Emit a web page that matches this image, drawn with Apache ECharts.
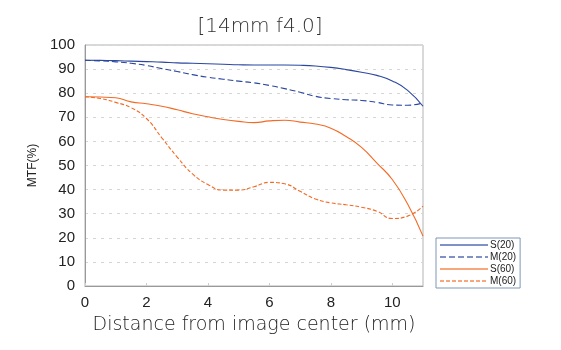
<!DOCTYPE html>
<html><head><meta charset="utf-8">
<script src="https://cdn.jsdelivr.net/npm/echarts@6/dist/echarts.min.js"></script>
<style>html,body{margin:0;padding:0;background:#fff}#c{width:561px;height:350px}</style>
</head><body><div id="c"></div>
<script>
const titleText = '[14mm f4.0]';
const xName = 'Distance from image center (mm)';
const yName = 'MTF(%)';
const seriesNames = ['S(20)', 'M(20)', 'S(60)', 'M(60)'];
const distances = [0,0.5,1,1.5,2,2.5,3,3.5,4,4.5,5,5.5,6,6.5,7,7.5,8,8.5,9,9.5,10,10.5,11];
const s20 = [93.7,93.6,93.5,93.3,93.1,92.9,92.6,92.4,92.2,92.0,91.8,91.7,91.7,91.7,91.6,91.3,90.7,89.8,88.7,87.4,85.1,81.2,74.6];
const m20 = [93.7,93.4,93.0,92.4,91.5,90.2,89.0,87.7,86.6,85.8,85.0,84.3,83.2,81.9,80.4,78.7,77.8,77.3,77.0,76.2,75.1,75.0,76.0];
const s60 = [78.5,78.4,78.1,76.4,75.6,74.6,73.1,71.5,70.2,69.1,68.3,67.8,68.5,68.8,68.0,67.2,65.5,62.0,57.5,51.0,44.2,34.0,20.7];
const m60 = [78.5,77.8,76.2,74.0,69.5,61.5,53.5,46.5,42.1,39.8,39.8,41.2,43.0,42.4,39.3,36.1,34.5,33.7,32.7,31.0,28.0,29.0,33.1];
const yTicks = [0,10,20,30,40,50,60,70,80,90,100];
const xTicks = [0,2,4,6,8,10];

const blue = '#2b47a0', orange = '#f36a24';
function pairs(v){ return distances.map((d,i)=>[d, v[i]]); }
function mk(name, vals, color, dash){
  return { name, type:'line', data: pairs(vals), symbol:'none', smooth:0.5,
    lineStyle:{ color, width:1.1, type: dash || 'solid' }, itemStyle:{color}, z:3 };
}
const chart = echarts.init(document.getElementById('c'), null, {renderer:'canvas'});
chart.setOption({
  animation:false,
  title:{ text:titleText, left:255, top:12, textAlign:'center',
    textStyle:{ fontSize:20, fontWeight:200, color:'#333', fontFamily:'DejaVu Sans' } },
  grid:{ left:85, top:45, width:338, height:241, show:true, borderColor:'#b3b3b3', borderWidth:1 },
  xAxis:{ type:'value', min:0, max:11, interval:2,
    name:xName, nameLocation:'middle', nameGap:30,
    nameTextStyle:{ fontSize:19, fontWeight:200, color:'#222', fontFamily:'DejaVu Sans' },
    axisLine:{ lineStyle:{ color:'#999' } },
    axisTick:{ inside:true, length:3, lineStyle:{ color:'#ccc' } },
    axisLabel:{ showMaxLabel:false, margin:9, fontSize:15, color:'#222', fontFamily:'Liberation Sans',
      formatter: v => xTicks.indexOf(v) >= 0 ? String(v) : '' },
    splitLine:{ show:false } },
  yAxis:{ type:'value', min:0, max:100, interval:10,
    name:yName, nameLocation:'middle', nameGap:46, nameRotate:90,
    nameTextStyle:{ fontSize:12, color:'#222', fontFamily:'Liberation Sans' },
    axisLine:{ show:true, lineStyle:{ color:'#999' } },
    axisTick:{ show:false },
    axisLabel:{ margin:10, fontSize:15, color:'#222', fontFamily:'Liberation Sans',
      formatter: v => yTicks.indexOf(v) >= 0 ? String(v) : '' },
    splitLine:{ show:true, lineStyle:{ color:'#d6d6d6', type:[3,5], width:1 } } },
  legend:{ orient:'vertical', left:436, top:238, data:seriesNames,
    itemWidth:48, itemHeight:10, itemGap:2, padding:[2,4,2,3],
    borderColor:'#7d98b5', borderWidth:1, backgroundColor:'#fff',
    itemStyle:{ opacity:0 },
    lineStyle:{ width:2, opacity:0.6 },
    textStyle:{ fontSize:10, color:'#222', fontFamily:'Liberation Sans', padding:[0,0,0,-3] } },
  series:[
    mk(seriesNames[0], s20, blue),
    mk(seriesNames[1], m20, blue, [6,3]),
    mk(seriesNames[2], s60, orange),
    mk(seriesNames[3], m60, orange, [4,2])
  ]
});
</script></body></html>
